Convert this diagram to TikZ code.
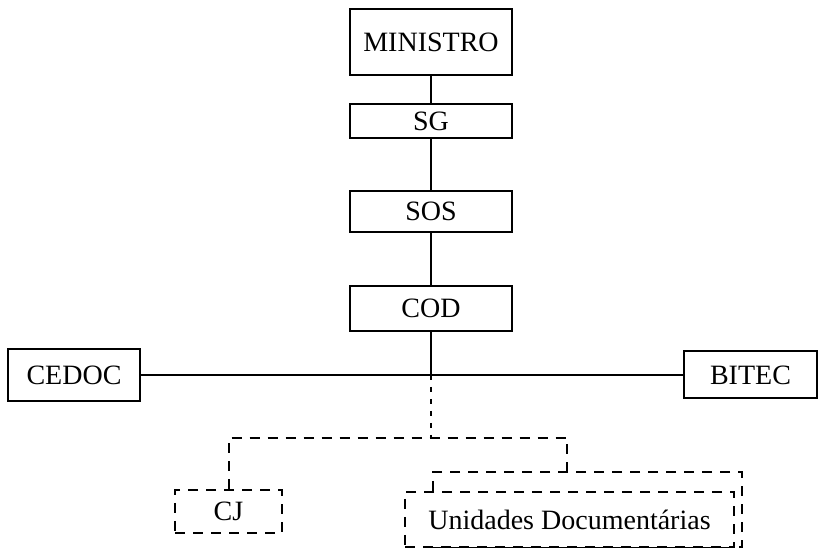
\documentclass[tikz,border=0pt]{standalone}
\usepackage{fontspec}
\setmainfont{Liberation Serif}
\usepackage{tikz}
\usetikzlibrary{positioning}
\tikzstyle{line} = [line width=1pt]
\tikzstyle{unit} = [rectangle, draw=black, line width=1pt, text centered,
inner sep=2pt, fill=white, font=\fontsize{14pt}{16pt}\selectfont]
\tikzstyle{optional} = [dashed, dash pattern=on 5pt off 4pt]
\tikzstyle{dotline} = [line width=1pt, dash pattern=on 2.5pt off 3.5pt]

\begin{document}
\begin{tikzpicture}[x=0.5pt, y=-0.5pt]
  \useasboundingbox (0,0) rectangle (820,549);
  % main chain
  \node [unit, minimum width=81pt, minimum height=33pt] (ministro) at (431,42) {MINISTRO};
  \node [unit, minimum width=81pt, minimum height=17pt] (sg) at (431,121) {SG};
  \node [unit, minimum width=81pt, minimum height=20.5pt] (sos) at (431,211.5) {SOS};
  \node [unit, minimum width=81pt, minimum height=22.5pt] (cod) at (431,308.5) {COD};
  \node [unit, minimum width=66pt, minimum height=26pt] (cedoc) at (74,375) {CEDOC};
  \node [unit, minimum width=66.5pt, minimum height=23.5pt] (bitec) at (750.5,375) {BITEC};
  \coordinate (junction) at (431,375);
  \coordinate (split) at (431,438);
  \draw [line] (ministro) -- (sg);
  \draw [line] (sg) -- (sos);
  \draw [line] (sos) -- (cod);
  \draw [line] (cod) -- (junction);
  \draw [line] (cedoc) -- (bitec);
  % dashed part
  \node [unit, optional, minimum width=53.5pt, minimum height=21.5pt] (cj) at (228.5,511.5) {CJ};
  \node [unit, optional, minimum width=154.5pt, minimum height=37.5pt] (udback) at (587.5,509.5) {};
  \node [unit, optional, minimum width=164.5pt, minimum height=27.5pt] (ud) at (569.5,519.5) {Unidades Documentárias};
  \coordinate (udtop) at (567,472);
  \draw [dotline] (junction) -- (split);
  \draw [line, optional] (cj) |- (split) -| (udtop);
\end{tikzpicture}
\end{document}
